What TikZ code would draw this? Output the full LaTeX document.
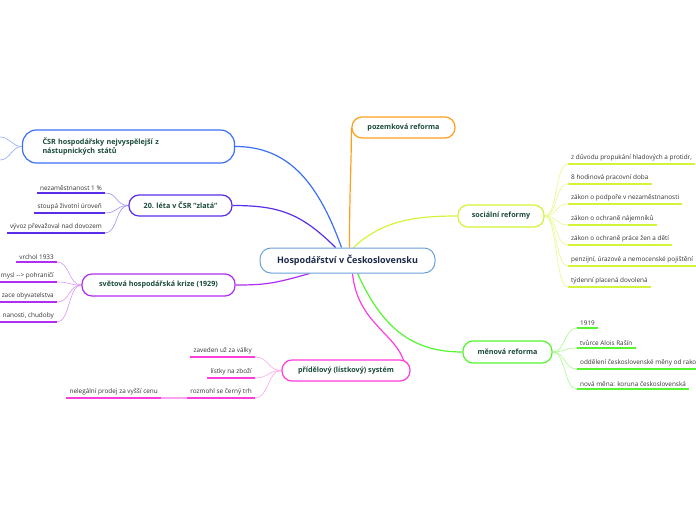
\documentclass[tikz,border=0pt]{standalone}
\usepackage{fontspec}
\setmainfont{Open Sans}
\usetikzlibrary{backgrounds}
\definecolor{topictxt}{HTML}{1A4A3A}
\definecolor{leaftxt}{HTML}{333333}
\definecolor{centtxt}{HTML}{1C2A4A}
\definecolor{centbd}{HTML}{6AA0D8}
\definecolor{cblue}{HTML}{3A6FF7}
\definecolor{cblueL}{HTML}{8FAAFA}
\definecolor{cindigo}{HTML}{5A2DE8}
\definecolor{cindigoL}{HTML}{A48EF3}
\definecolor{cviolet}{HTML}{B02EF0}
\definecolor{cvioletL}{HTML}{D796F7}
\definecolor{cmag}{HTML}{FF3DDC}
\definecolor{cmagL}{HTML}{FFA3EE}
\definecolor{corange}{HTML}{FFA01C}
\definecolor{cyel}{HTML}{D2F53A}
\definecolor{cyelL}{HTML}{E4FA8A}
\definecolor{cgreen}{HTML}{55F530}
\definecolor{cgreenL}{HTML}{A8FA8E}
\begin{document}
\begin{tikzpicture}[x=1pt,y=-1pt,
  topic/.style={draw, rounded corners=10pt, line width=1.2pt, fill=white,
    font=\bfseries\fontsize{7.2}{9}\selectfont, text=topictxt,
    minimum height=21pt, inner sep=0pt},
  leaf/.style={font=\fontsize{6.4}{7.5}\selectfont, text=leaftxt, inner xsep=3pt, inner ysep=2.5pt},
  lleaf/.style={leaf, anchor=south east},
  rleaf/.style={leaf, anchor=south west},
  ul/.style={line width=1.6pt},
  main/.style={line width=1.2pt},
  sub/.style={line width=0.6pt}
]
\useasboundingbox (0,0) rectangle (696,520);

% central
\node[draw=centbd, line width=1pt, rounded corners=11pt, fill=white,
  minimum width=175pt, minimum height=25pt, inner sep=0pt,
  font=\bfseries\fontsize{9}{11}\selectfont, text=centtxt] (c) at (347.5,260.5) {Hospodářství v Československu};

% topics
\node[topic, draw=cblue, minimum height=33pt, text width=172pt, align=left, inner xsep=20pt, rounded corners=14pt] (csr) at (128.5,146.5)
  {ČSR hospodářsky nejvyspělejší z\\nástupnických států};
\node[topic, draw=cindigo, minimum width=103pt] (leta) at (180.5,205.5) {20. léta v ČSR "zlatá"};
\node[topic, draw=cviolet, minimum width=153pt, minimum height=22pt] (krize) at (158.5,285) {světová hospodářská krize (1929)};
\node[topic, draw=cmag, minimum width=128pt] (prid) at (346,370.5) {přídělový (lístkový) systém};
\node[topic, draw=corange, minimum width=103pt] (poz) at (403.5,127.5) {pozemková reforma};
\node[topic, draw=cyel, minimum width=86pt, minimum height=22pt] (soc) at (501,216) {sociální reformy};
\node[topic, draw=cgreen, minimum width=89pt, minimum height=22pt] (men) at (507.5,352) {měnová reforma};

% leaves: 20. leta
\node[lleaf] (l1) at (105,193) {nezaměstnanost 1 \%};
\node[lleaf] (l2) at (105,213) {stoupá životní úroveň};
\node[lleaf] (l3) at (105,233) {vývoz převažoval nad dovozem};
% leaves: krize
\node[lleaf] (k1) at (57,262) {vrchol 1933};
\node[lleaf] (k2) at (57,282) {mysl -\kern0pt-\kern0pt> pohraničí};
\node[lleaf] (k3) at (57,302) {zace obyvatelstva};
\node[lleaf] (k4) at (57,322) {nanosti, chudoby};
% leaves: pridelovy
\node[lleaf] (p1) at (255,357) {zaveden už za války};
\node[lleaf] (p2) at (255,378) {lístky na zboží};
\node[lleaf] (p3) at (255,398) {rozmohl se černý trh};
\node[lleaf] (p4) at (161,398) {nelegální prodej za vyšší cenu};
% leaves: socialni
\node[rleaf] (s1) at (568,164) {z důvodu propukání hladových a protidr,};
\node[rleaf] (s2) at (568,184) {8 hodinová pracovní doba};
\node[rleaf] (s3) at (568,204) {zákon o podpoře v nezaměstnanosti};
\node[rleaf] (s4) at (568,225) {zákon o ochraně nájemníků};
\node[rleaf] (s5) at (568,245) {zákon o ochraně práce žen a dětí};
\node[rleaf] (s6) at (568,266) {penzijní, úrazové a nemocenské pojištění};
\node[rleaf] (s7) at (568,287) {týdenní placená dovolená};
% leaves: menova
\node[rleaf] (m1) at (577,328) {1919};
\node[rleaf] (m2) at (577,348) {tvůrce Alois Rašín};
\node[rleaf] (m3) at (577,369) {oddělení československé měny od rako};
\node[rleaf] (m4) at (577,389) {nová měna: koruna československá};

\coordinate (o1) at (0,137);
\coordinate (o2) at (0,160);

% underlines
\foreach \n in {l1,l2,l3} \draw[ul, cindigo] (\n.south west) -- (\n.south east);
\foreach \n in {k1,k2,k3,k4} \draw[ul, cviolet] (\n.south west) -- (\n.south east);
\foreach \n in {p1,p2,p3,p4} \draw[ul, cmag] (\n.south west) -- (\n.south east);
\foreach \n in {s1,s2,s3,s4,s5,s6,s7} \draw[ul, cyel] (\n.south west) -- (\n.south east);
\foreach \n in {m1,m2,m3,m4} \draw[ul, cgreen] (\n.south west) -- (\n.south east);

\begin{pgfonlayer}{background}
% main connectors
\draw[main, cblue] ([xshift=-6pt]c.north) .. controls +(-25,-70) and +(50,0) .. (csr.east);
\draw[main, cindigo] ([xshift=-12pt]c.north) .. controls +(-35,-35) and +(45,0) .. (leta.east);
\draw[main, cviolet] ([xshift=50pt]c.south west) .. controls +(-35,10) and +(30,0) .. (krize.east);
\draw[main, corange] ([xshift=2pt]c.north) .. controls +(0,-60) and +(0,40) .. (poz.west);
\draw[main, cyel] ([xshift=6pt]c.north) .. controls +(30,-28) and +(-40,0) .. (soc.west);
\draw[main, cgreen] ([xshift=10pt]c.south) .. controls +(25,55) and +(-50,0) .. (men.west);
\draw[main, cmag] ([xshift=5pt]c.south) .. controls +(5,50) and +(-8,-30) .. ([xshift=-6pt,yshift=-4pt]prid.north east);
% sub connectors
\draw[sub, cblueL] (csr.west) .. controls +(-10,0) and +(10,0) .. (o1);
\draw[sub, cblueL] (csr.west) .. controls +(-10,0) and +(10,0) .. (o2);
\foreach \n in {l1,l2,l3} \draw[sub, cindigoL] (leta.west) .. controls +(-13,0) and +(13,0) .. (\n.south east);
\foreach \n in {k1,k2,k3,k4} \draw[sub, cvioletL] (krize.west) .. controls +(-13,0) and +(13,0) .. (\n.south east);
\foreach \n in {p1,p2,p3} \draw[sub, cmagL] (prid.west) .. controls +(-14,0) and +(14,0) .. (\n.south east);
\draw[sub, cmagL, line width=1.6pt] (p3.south west) -- (p4.south east);
\foreach \n in {s1,s2,s3,s4,s5,s6,s7} \draw[sub, cyelL] (soc.east) .. controls +(13,0) and +(-13,0) .. (\n.south west);
\foreach \n in {m1,m2,m3,m4} \draw[sub, cgreenL] (men.east) .. controls +(13,0) and +(-13,0) .. (\n.south west);
\end{pgfonlayer}
\end{tikzpicture}
\end{document}
